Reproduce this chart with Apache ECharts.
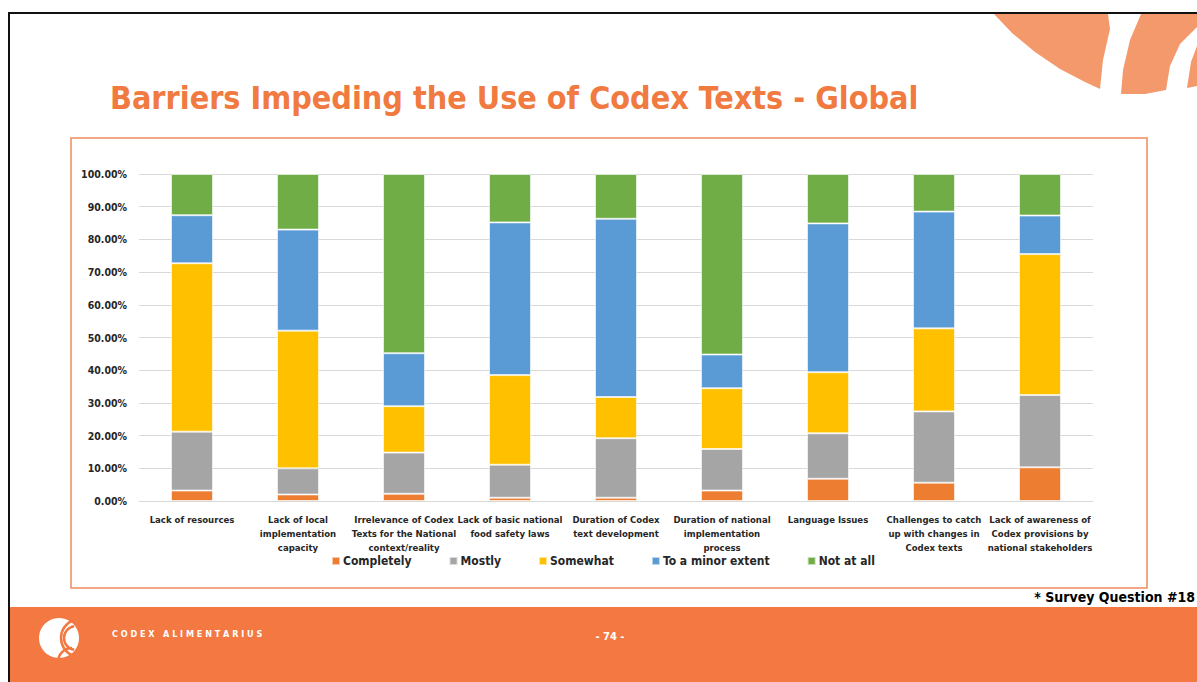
<!DOCTYPE html>
<html>
<head>
<meta charset="utf-8">
<script src="https://cdn.jsdelivr.net/npm/echarts@6/dist/echarts.min.js"></script>
<style>
  html, body { margin: 0; padding: 0; background: #fff; }
  #slide { width: 1197px; height: 682px; }
</style>
</head>
<body>
<div id="slide"></div>
<script>
// categories (line breaks as on the slide)
var categories = [
  "Lack of resources",
  "Lack of local\nimplementation\ncapacity",
  "Irrelevance of Codex\nTexts for the National\ncontext/reality",
  "Lack of basic national\nfood safety laws",
  "Duration of Codex\ntext development",
  "Duration of national\nimplementation\nprocess",
  "Language Issues",
  "Challenges to catch\nup with changes in\nCodex texts",
  "Lack of awareness of\nCodex provisions by\nnational stakeholders"
];
var seriesNames = ["Completely", "Mostly", "Somewhat", "To a minor extent", "Not at all"];
// percentages
var completely = [3.2, 2.0, 2.2, 1.0, 1.0, 3.2, 6.8, 5.6, 10.3];
var mostly     = [18.0, 8.0, 12.6, 10.1, 18.2, 12.7, 13.9, 21.8, 22.1];
var somewhat   = [51.5, 42.1, 14.2, 27.4, 12.6, 18.6, 18.7, 25.4, 43.1];
var minor      = [14.7, 30.9, 16.2, 46.7, 54.5, 10.3, 45.5, 35.7, 11.8];
var notAtAll   = [12.6, 17.0, 54.8, 14.8, 13.7, 55.2, 15.1, 11.5, 12.7];
var yTicks = [0, 10, 20, 30, 40, 50, 60, 70, 80, 90, 100];

var colors = ["#ED7D31", "#A5A5A5", "#FFC000", "#5B9BD5", "#70AD47"];
var allData = [completely, mostly, somewhat, minor, notAtAll];
var FONT = "'DejaVu Sans Condensed', 'Liberation Sans Narrow', Arial, sans-serif";

var chart = echarts.init(document.getElementById("slide"), null, { renderer: "svg" });

var series = seriesNames.map(function (name, i) {
  return {
    name: name,
    type: "bar",
    stack: "total",
    barWidth: 42,
    itemStyle: { color: colors[i], borderColor: "rgba(255,255,255,0.6)", borderWidth: 1 },
    data: allData[i]
  };
});

var option = {
  animation: false,
  textStyle: { fontFamily: FONT },
  title: {
    text: "Barriers Impeding the Use of Codex Texts - Global",
    left: 105,
    top: 77,
    textStyle: { color: "#F07A3F", fontSize: 32, fontWeight: "bold", fontFamily: FONT }
  },
  legend: {
    data: seriesNames,
    left: 326,
    top: 550,
    itemWidth: 8,
    itemHeight: 8,
    itemGap: 37,
    icon: "rect",
    textStyle: { fontSize: 12, fontWeight: "bold", color: "#262626", fontFamily: FONT, padding: [0, 0, 0, -2] }
  },
  grid: { left: 139, right: 104, top: 174, bottom: 181 },
  xAxis: {
    type: "category",
    data: categories,
    axisTick: { show: false },
    axisLine: { lineStyle: { color: "#D9D9D9" } },
    axisLabel: {
      interval: 0,
      margin: 11,
      color: "#262626",
      fontSize: 9.5,
      fontWeight: "bold",
      lineHeight: 14,
      fontFamily: FONT
    }
  },
  yAxis: {
    type: "value",
    min: yTicks[0],
    max: yTicks[yTicks.length - 1],
    interval: 10,
    axisLine: { show: false },
    axisTick: { show: false },
    splitLine: { lineStyle: { color: "#D9D9D9", width: 1 } },
    axisLabel: {
      margin: 12,
      color: "#262626",
      fontSize: 10.5,
      fontWeight: "bold",
      fontFamily: FONT,
      formatter: function (v) { return v.toFixed(2) + "%"; }
    }
  },
  graphic: [
    // slide frame lines
    { type: "rect", shape: { x: 8, y: 12, width: 1189, height: 2 }, style: { fill: "#111" }, z: 5 },
    { type: "rect", shape: { x: 8, y: 12, width: 2, height: 670 }, style: { fill: "#111" }, z: 5 },
    // top-right decoration
    { type: "polygon", shape: { points: [[994, 14], [1012, 33], [1035, 52], [1060, 69], [1085, 82], [1100, 89], [1103, 60], [1110, 29], [1108, 14]] }, style: { fill: "#F4996B" }, z: 1 },
    { type: "polygon", shape: { points: [[1141, 14], [1130, 40], [1123, 70], [1121, 94], [1145, 94], [1166, 90], [1170, 66], [1180, 44], [1197, 27], [1197, 14]] }, style: { fill: "#F4996B" }, z: 1 },
    { type: "polygon", shape: { points: [[1197, 46], [1191, 62], [1187, 88], [1197, 86]] }, style: { fill: "#F4996B" }, z: 1 },
    // chart box
    { type: "rect", shape: { x: 71, y: 138, width: 1076, height: 450 }, style: { fill: "none", stroke: "#F08A5D", lineWidth: 1.5 }, z: 1 },
    // footnote
    { type: "text", style: { x: 1195, y: 597, text: "* Survey Question #18", align: "right", verticalAlign: "middle", fill: "#000", font: "bold 14px " + FONT }, z: 5 },
    // footer band
    { type: "rect", shape: { x: 10, y: 607, width: 1187, height: 75 }, style: { fill: "#F37841" }, z: 2 },
    { type: "circle", shape: { cx: 59, cy: 638, r: 20 }, style: { fill: "#fff" }, z: 3 },
    { type: "arc", shape: { cx: 76, cy: 638, r: 12, startAngle: Math.PI * 0.55, endAngle: Math.PI * 1.45 }, style: { stroke: "#F37841", lineWidth: 2.5, fill: "none" }, z: 4 },
    { type: "arc", shape: { cx: 80, cy: 638, r: 19, startAngle: Math.PI * 0.62, endAngle: Math.PI * 1.38 }, style: { stroke: "#F37841", lineWidth: 2.5, fill: "none" }, z: 4 },
    { type: "arc", shape: { cx: 72, cy: 662, r: 14, startAngle: Math.PI * 1.0, endAngle: Math.PI * 1.5 }, style: { stroke: "#F37841", lineWidth: 2.5, fill: "none" }, z: 4 },
    { type: "text", style: { x: 112, y: 634, text: "C O D E X   A L I M E N T A R I U S", verticalAlign: "middle", fill: "#fff", font: "bold 9px " + FONT }, z: 4 },
    { type: "text", style: { x: 610, y: 636, text: "- 74 -", align: "center", verticalAlign: "middle", fill: "#fff", font: "bold 11px " + FONT }, z: 4 }
  ],
  series: series
};

chart.setOption(option);
window.addEventListener("resize", function () { chart.resize(); });
</script>
</body>
</html>
